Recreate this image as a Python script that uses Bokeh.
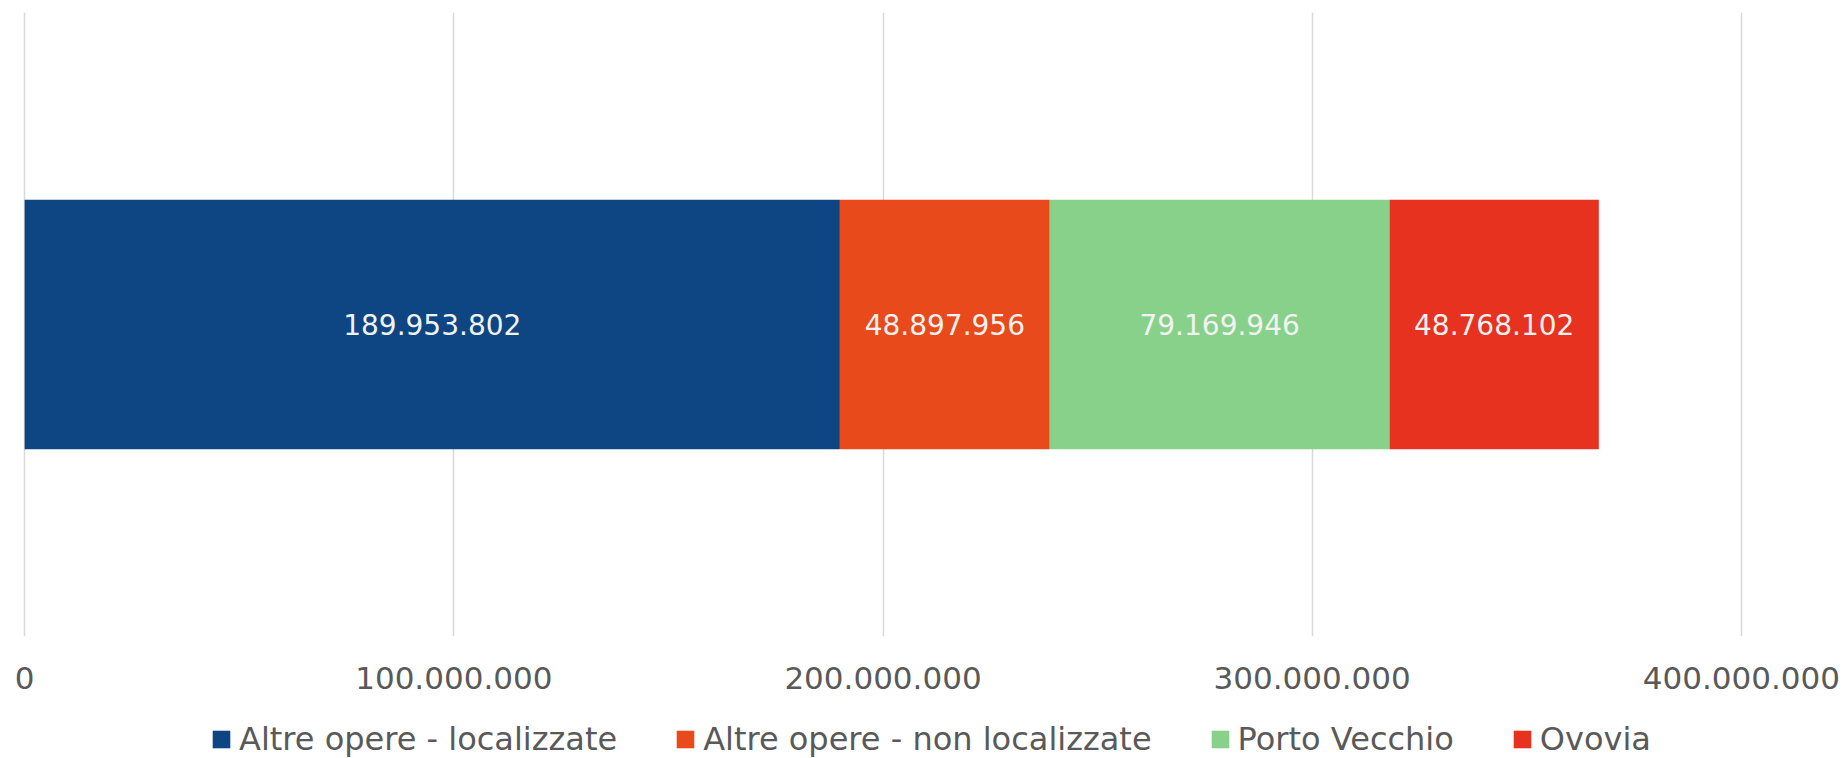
from bokeh.plotting import figure
from bokeh.layouts import column
from bokeh.models import (ColumnDataSource, FactorRange, Range1d, FixedTicker,
                          CustomJSTickFormatter, Legend, LegendItem)
from bokeh.core.properties import value
from bokeh.embed import file_html
from bokeh.resources import INLINE

# ---- data ----
category = ["Totale"]
series_names = ["Altre opere - localizzate", "Altre opere - non localizzate",
                "Porto Vecchio", "Ovovia"]
series_values = [189953802, 48897956, 79169946, 48768102]
series_colors = ["#0E4583", "#E84A1C", "#88D18B", "#E6321E"]
x_ticks = [0, 100000000, 200000000, 300000000, 400000000]

FONT = "DejaVu Sans"
W = 1840

def fmt_it(v):
    return f"{v:,}".replace(",", ".")

keys = [f"s{i}" for i in range(len(series_values))]
data = {"cat": category}
for k, v in zip(keys, series_values):
    data[k] = [v]
source = ColumnDataSource(data)

# ---------------- main chart ----------------
pad = 500000  # tiny padding so the gridlines at both ends are drawn
p = figure(width=W, height=700, output_backend="svg", toolbar_location=None,
           y_range=FactorRange(factors=category),
           x_range=Range1d(x_ticks[0] - pad, x_ticks[-1] + pad),
           min_border_left=22, min_border_right=97, min_border_top=12,
           min_border_bottom=64)

p.hbar_stack(keys, y="cat", height=0.4, color=series_colors,
             line_color=None, source=source)

starts = []
acc = 0
for v in series_values:
    starts.append(acc)
    acc += v
centers = [s + v / 2 for s, v in zip(starts, series_values)]
lab_src = ColumnDataSource(dict(x=centers, y=category * len(series_values),
                                t=[fmt_it(v) for v in series_values]))
p.text(x="x", y="y", text="t", source=lab_src, text_align="center",
       text_baseline="middle", text_color="#F2F2F2", text_font_size="28px",
       text_font=value(FONT))

p.yaxis.visible = False
p.ygrid.grid_line_color = None
p.xgrid.grid_line_color = "#D9D9D9"
p.xgrid.grid_line_width = 1.5
p.xaxis.ticker = FixedTicker(ticks=x_ticks)
p.xaxis.formatter = CustomJSTickFormatter(code="""
    return Math.round(tick).toString().replace(/\\B(?=(\\d{3})+(?!\\d))/g, '.');
""")
p.xaxis.axis_line_color = None
p.xaxis.major_tick_line_color = None
p.xaxis.minor_tick_line_color = None
p.xaxis.major_label_standoff = 24
p.xaxis.major_label_text_font = FONT
p.xaxis.major_label_text_font_size = "31px"
p.xaxis.major_label_text_color = "#595959"
p.outline_line_color = None

# ---------------- legend strip ----------------
# swatch renderers: zero-height bars far outside the visible range
lg = figure(width=W, height=58, output_backend="svg", toolbar_location=None,
            y_range=FactorRange(factors=category),
            x_range=Range1d(-2.0e9, -1.9e9),
            min_border_left=0, min_border_right=0, min_border_top=0,
            min_border_bottom=0)
lg.axis.visible = False
lg.grid.visible = False
lg.outline_line_color = None
leg_renderers = lg.hbar_stack(keys, y="cat", height=0.0, color=series_colors,
                              line_color=None, source=source)

legend = Legend(items=[LegendItem(label=n, renderers=[r])
                       for n, r in zip(series_names, leg_renderers)],
                orientation="horizontal", location=(188, 0),
                glyph_width=22, glyph_height=22, label_standoff=7,
                spacing=57, padding=0, margin=0, label_height=36,
                label_text_font=FONT, label_text_font_size="32px",
                label_text_color="#595959", border_line_color=None,
                background_fill_alpha=0)
lg.add_layout(legend, "center")

layout = column(p, lg, spacing=0)
open("out.html", "w").write(file_html(layout, INLINE))
